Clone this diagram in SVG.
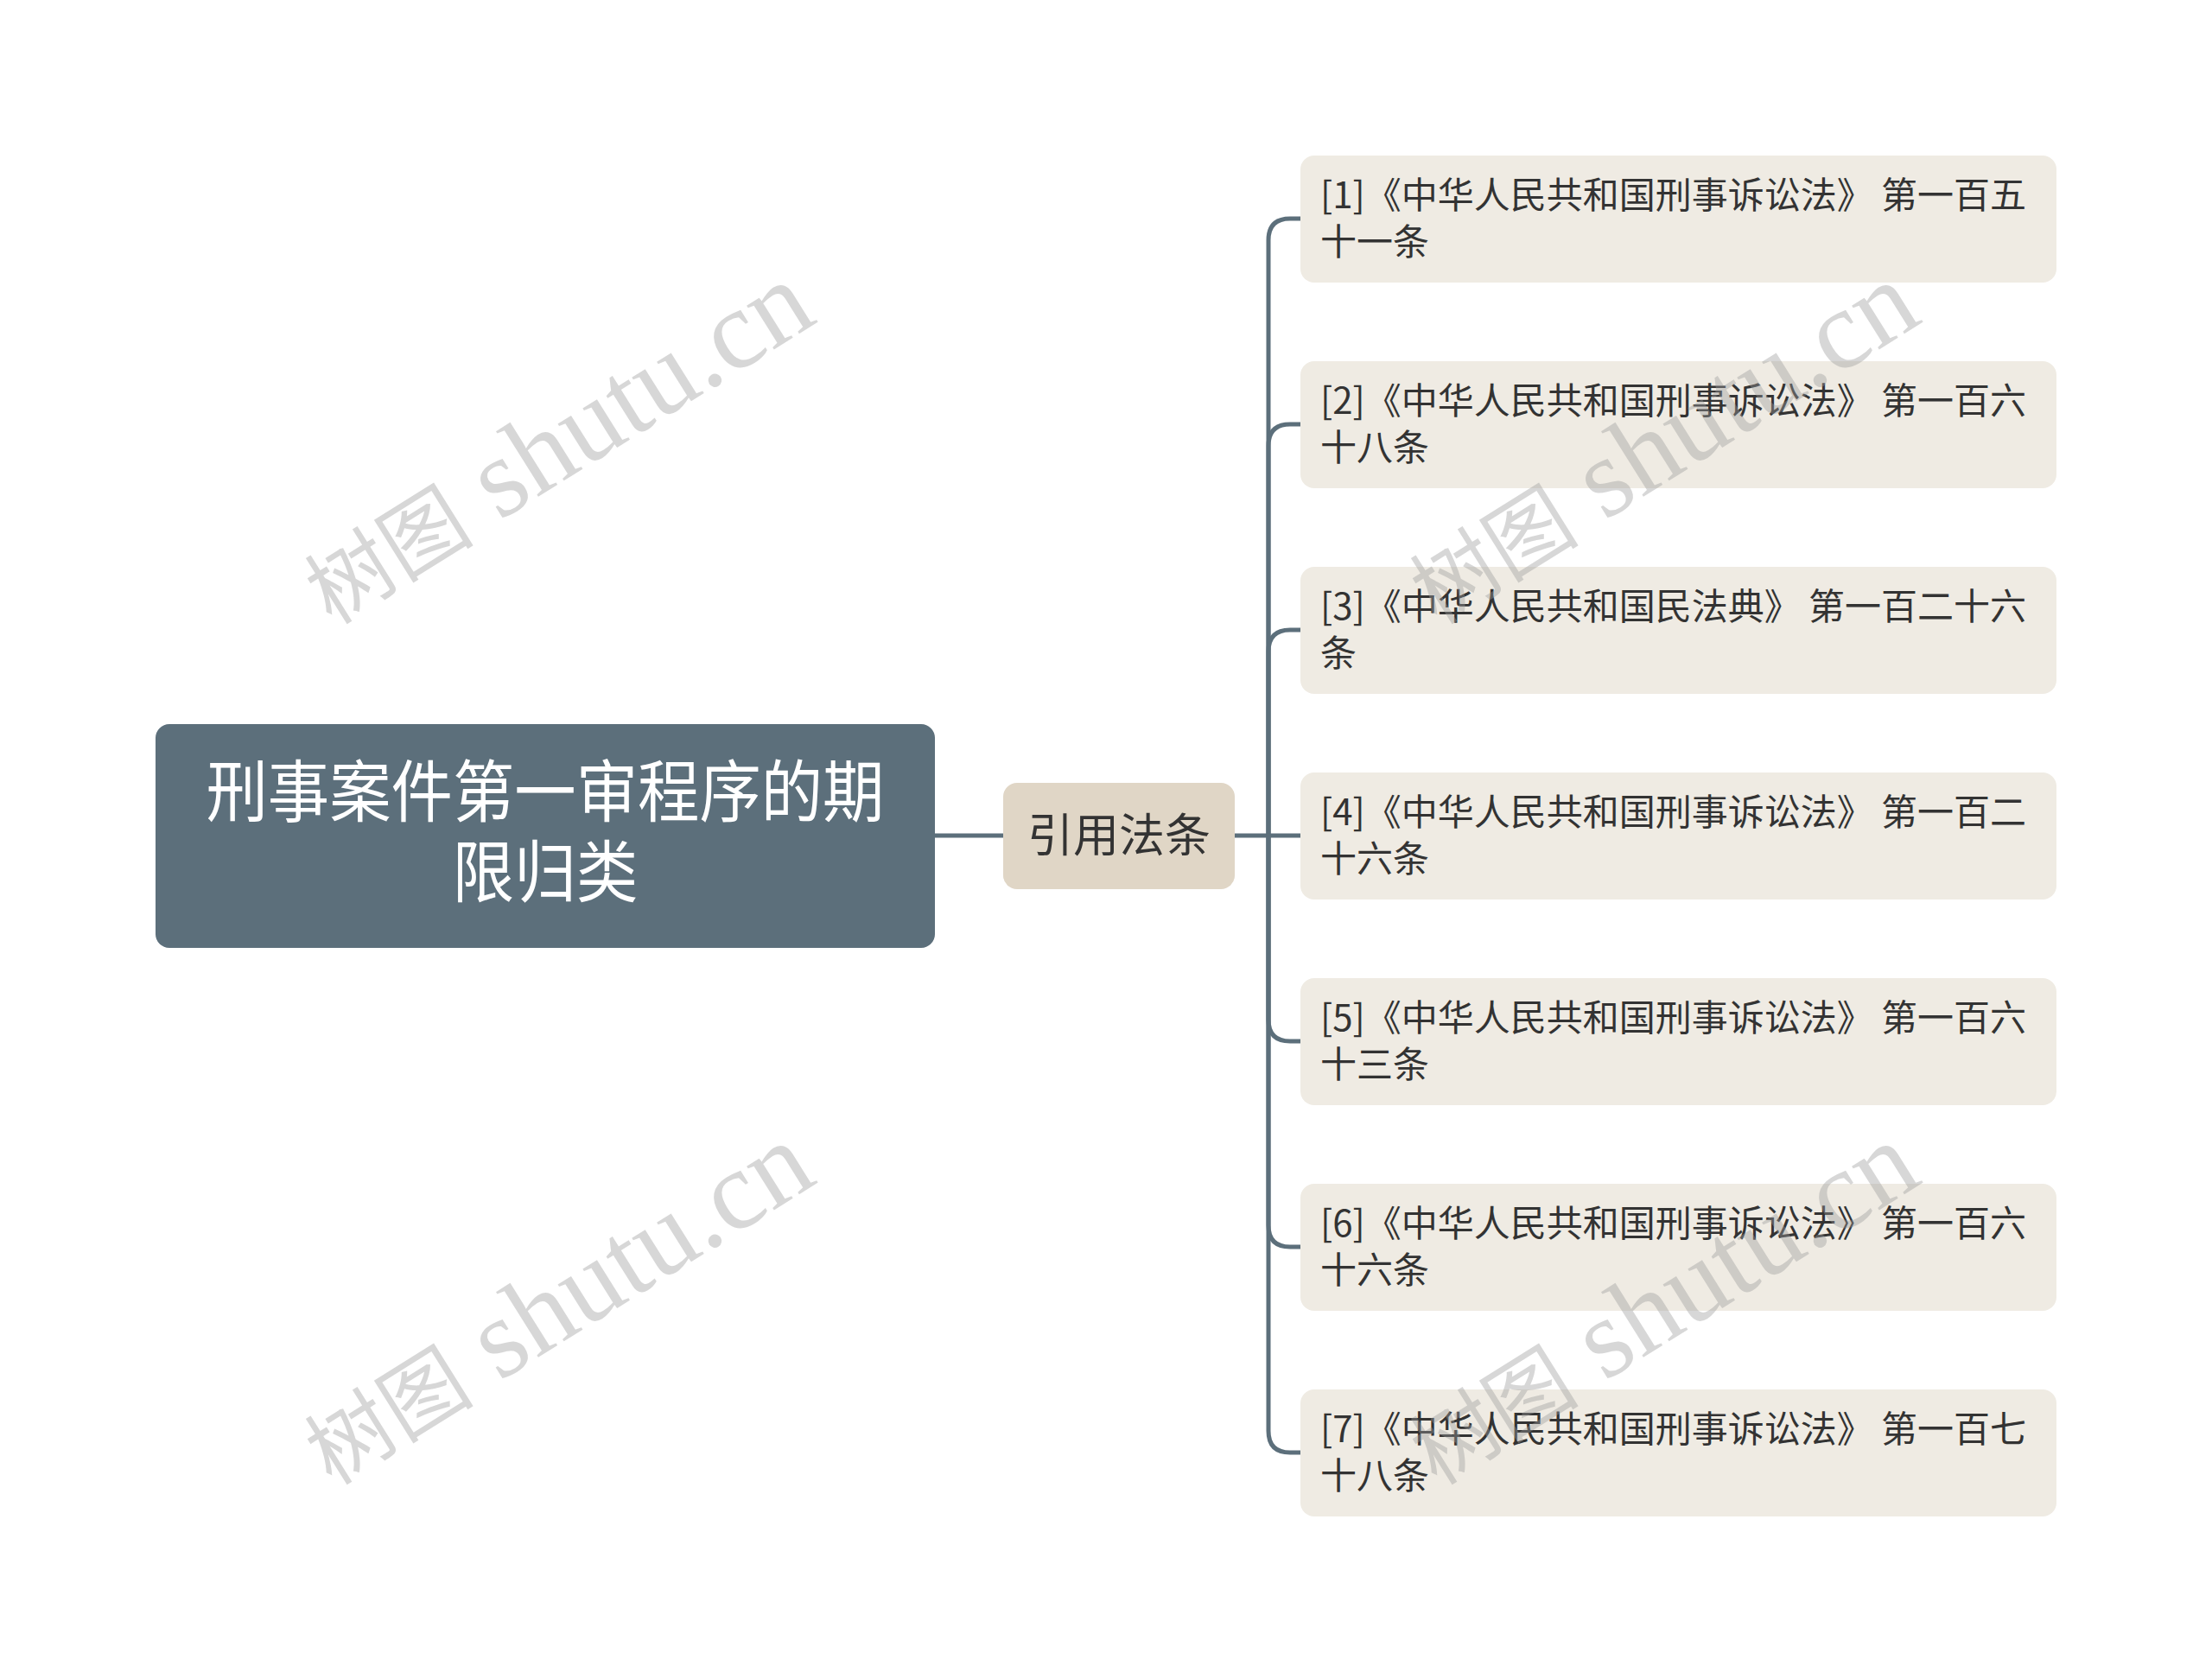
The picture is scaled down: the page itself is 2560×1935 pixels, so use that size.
<svg xmlns="http://www.w3.org/2000/svg" width="2560" height="1935" viewBox="0 0 2560 1935">
<style>
.cjk{font-family:"Noto Sans CJK SC","Noto Sans",sans-serif}
.root-box{fill:#5c6f7b}
.mid-box{fill:#e0d6c6}
.leaf-box{fill:#efebe3}
.root-t{font-size:78px;fill:#ffffff;text-anchor:middle}
.mid-t{font-size:53px;fill:#333333;text-anchor:middle}
.leaf-t{font-size:42px;fill:#333333}
.conn{fill:none;stroke:#5c6f7b;stroke-width:5;stroke-linecap:round}
.wm{font-family:"Liberation Serif","Noto Sans CJK SC",serif;font-size:130px;fill:#9a9a9a;fill-opacity:0.4;text-anchor:middle}
.wm-cjk{font-size:98px}
</style>
<rect width="2560" height="1935" fill="#ffffff"/>
<g id="connectors">
<path class="conn" d="M1082,967 L1161,967"/>
<path class="conn" d="M1429,967 L1468,967 L1468,278 Q1468,253 1493,253 L1505,253"/>
<path class="conn" d="M1468,967 L1468,516 Q1468,491 1493,491 L1505,491"/>
<path class="conn" d="M1468,967 L1468,754 Q1468,729 1493,729 L1505,729"/>
<path class="conn" d="M1468,967 L1505,967"/>
<path class="conn" d="M1468,967 L1468,1180 Q1468,1205 1493,1205 L1505,1205"/>
<path class="conn" d="M1468,967 L1468,1418 Q1468,1443 1493,1443 L1505,1443"/>
<path class="conn" d="M1468,967 L1468,1656 Q1468,1681 1493,1681 L1505,1681"/>
</g>
<g id="root">
<rect class="root-box" x="180" y="838" width="902" height="259" rx="16"/>
<text class="cjk root-t" x="631" y="945" textLength="785" lengthAdjust="spacingAndGlyphs">刑事案件第一审程序的期</text>
<text class="cjk root-t" x="631" y="1038" textLength="215" lengthAdjust="spacingAndGlyphs">限归类</text>
</g>
<g id="mid">
<rect class="mid-box" x="1161" y="906" width="268" height="123" rx="16"/>
<text class="cjk mid-t" x="1295" y="986">引用法条</text>
</g>
<g id="leaf1">
<rect class="leaf-box" x="1505" y="180" width="875" height="147" rx="16"/>
<text class="cjk leaf-t" x="1528" y="241">[1]《中华人民共和国刑事诉讼法》 第一百五</text>
<text class="cjk leaf-t" x="1528" y="295">十一条</text>
</g>
<g id="leaf2">
<rect class="leaf-box" x="1505" y="418" width="875" height="147" rx="16"/>
<text class="cjk leaf-t" x="1528" y="479">[2]《中华人民共和国刑事诉讼法》 第一百六</text>
<text class="cjk leaf-t" x="1528" y="533">十八条</text>
</g>
<g id="leaf3">
<rect class="leaf-box" x="1505" y="656" width="875" height="147" rx="16"/>
<text class="cjk leaf-t" x="1528" y="717">[3]《中华人民共和国民法典》 第一百二十六</text>
<text class="cjk leaf-t" x="1528" y="771">条</text>
</g>
<g id="leaf4">
<rect class="leaf-box" x="1505" y="894" width="875" height="147" rx="16"/>
<text class="cjk leaf-t" x="1528" y="955">[4]《中华人民共和国刑事诉讼法》 第一百二</text>
<text class="cjk leaf-t" x="1528" y="1009">十六条</text>
</g>
<g id="leaf5">
<rect class="leaf-box" x="1505" y="1132" width="875" height="147" rx="16"/>
<text class="cjk leaf-t" x="1528" y="1193">[5]《中华人民共和国刑事诉讼法》 第一百六</text>
<text class="cjk leaf-t" x="1528" y="1247">十三条</text>
</g>
<g id="leaf6">
<rect class="leaf-box" x="1505" y="1370" width="875" height="147" rx="16"/>
<text class="cjk leaf-t" x="1528" y="1431">[6]《中华人民共和国刑事诉讼法》 第一百六</text>
<text class="cjk leaf-t" x="1528" y="1485">十六条</text>
</g>
<g id="leaf7">
<rect class="leaf-box" x="1505" y="1608" width="875" height="147" rx="16"/>
<text class="cjk leaf-t" x="1528" y="1669">[7]《中华人民共和国刑事诉讼法》 第一百七</text>
<text class="cjk leaf-t" x="1528" y="1723">十八条</text>
</g>
<g id="watermarks">
<text class="wm" transform="translate(645,514) rotate(-32)" y="40"><tspan class="wm-cjk">树图</tspan> shutu.cn</text>
<text class="wm" transform="translate(1924,514) rotate(-32)" y="40"><tspan class="wm-cjk">树图</tspan> shutu.cn</text>
<text class="wm" transform="translate(645,1510) rotate(-32)" y="40"><tspan class="wm-cjk">树图</tspan> shutu.cn</text>
<text class="wm" transform="translate(1924,1510) rotate(-32)" y="40"><tspan class="wm-cjk">树图</tspan> shutu.cn</text>
</g>
</svg>
